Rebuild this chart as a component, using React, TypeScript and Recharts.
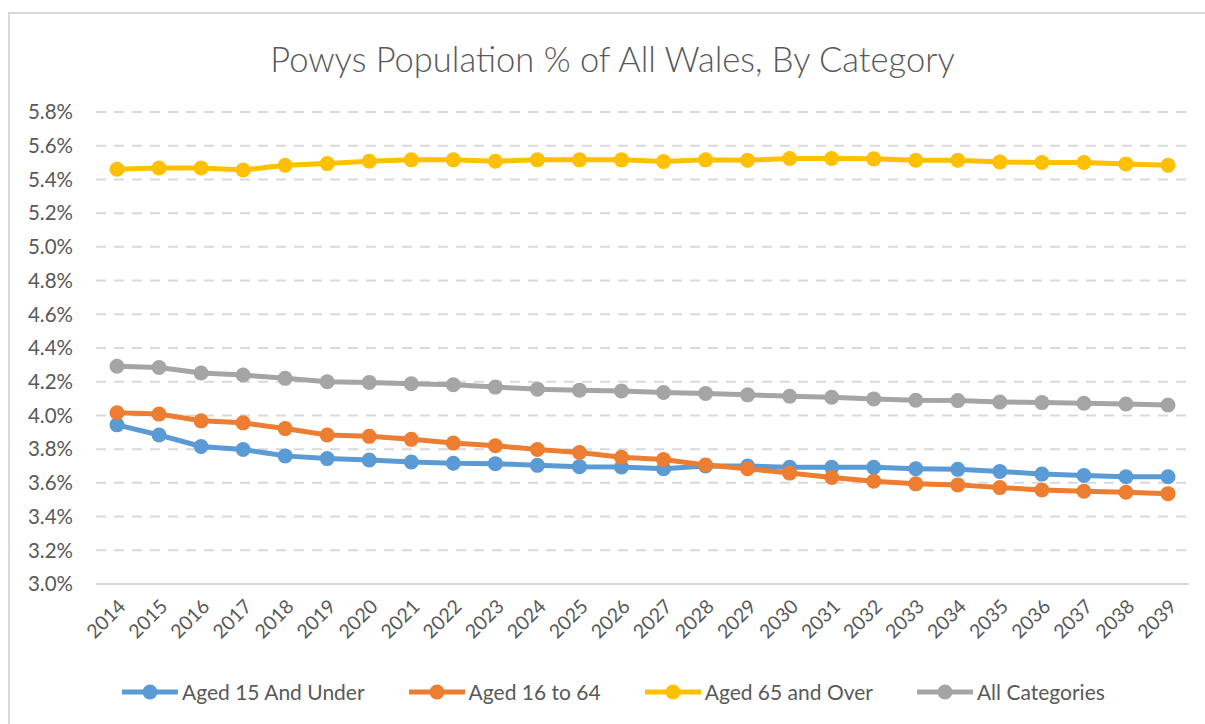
import React from 'react';
import { LineChart, Line, XAxis, YAxis, CartesianGrid, Legend } from 'recharts';

const years = ['2014','2015','2016','2017','2018','2019','2020','2021','2022','2023','2024','2025','2026','2027','2028','2029','2030','2031','2032','2033','2034','2035','2036','2037','2038','2039'];
const aged15AndUnder = [3.944,3.884,3.816,3.798,3.76,3.744,3.736,3.724,3.716,3.714,3.704,3.696,3.694,3.684,3.70,3.70,3.692,3.692,3.692,3.684,3.68,3.668,3.652,3.644,3.636,3.636];
const aged16to64 = [4.016,4.008,3.968,3.956,3.922,3.884,3.876,3.858,3.836,3.82,3.798,3.78,3.752,3.738,3.706,3.684,3.658,3.632,3.61,3.594,3.588,3.572,3.558,3.55,3.544,3.536];
const aged65AndOver = [5.46,5.468,5.468,5.456,5.484,5.494,5.508,5.516,5.516,5.508,5.516,5.516,5.516,5.506,5.516,5.514,5.524,5.524,5.522,5.514,5.514,5.504,5.5,5.5,5.492,5.484];
const allCategories = [4.292,4.284,4.252,4.24,4.22,4.2,4.196,4.188,4.182,4.168,4.156,4.15,4.145,4.136,4.13,4.122,4.114,4.108,4.098,4.09,4.088,4.08,4.076,4.072,4.068,4.062];
const yTicks = [3.0,3.2,3.4,3.6,3.8,4.0,4.2,4.4,4.6,4.8,5.0,5.2,5.4,5.6,5.8];

const seriesInfo = [
  { key: 'u15', name: 'Aged 15 And Under', color: '#5B9BD5' },
  { key: 'a1664', name: 'Aged 16 to 64', color: '#ED7D31' },
  { key: 'o65', name: 'Aged 65 and Over', color: '#FFC000' },
  { key: 'all', name: 'All Categories', color: '#A5A5A5' },
];

const data = years.map((y, i) => ({
  year: y,
  u15: aged15AndUnder[i],
  a1664: aged16to64[i],
  o65: aged65AndOver[i],
  all: allCategories[i],
}));

const FONT = 'Lato, "Open Sans", sans-serif';
const TEXT = '#595959';

const LegendContent = () => (
  <div style={{ display: 'flex', paddingLeft: 114, fontFamily: FONT, fontSize: 21, color: TEXT, alignItems: 'center' }}>
    {seriesInfo.map((s) => (
      <div key={s.key} style={{ display: 'flex', alignItems: 'center', marginRight: 44 }}>
        <svg width={56} height={18} style={{ marginRight: 4 }}>
          <line x1={0} y1={9} x2={56} y2={9} stroke={s.color} strokeWidth={5} strokeLinecap="round" />
          <circle cx={28} cy={9} r={7.5} fill={s.color} />
        </svg>
        <span>{s.name}</span>
      </div>
    ))}
  </div>
);

export default function App() {
  return (
    <div style={{ position: 'fixed', left: 8, top: 12, width: 1197, height: 712, borderLeft: '2px solid #d9d9d9', borderTop: '2px solid #d9d9d9', boxSizing: 'border-box', background: '#fff' }}>
      <div style={{ position: 'absolute', left: 0, top: 25, width: 1205, textAlign: 'center', fontFamily: FONT, fontSize: 34.5, color: TEXT, lineHeight: '40px', fontWeight: 300 }}>
        Powys Population % of All Wales, By Category
      </div>
      <div style={{ position: 'absolute', left: -2, top: -2 }}>
        <LineChart width={1197} height={712} data={data} margin={{ top: 100, right: 16, left: 0, bottom: 80 }}>
          <CartesianGrid vertical={false} stroke="#d9d9d9" strokeWidth={2} strokeDasharray="10 8" />
          <XAxis
            dataKey="year"
            interval={0}
            height={60}
            padding={{ left: 21, right: 21 }}
            axisLine={{ stroke: '#d9d9d9', strokeWidth: 2 }}
            tickLine={false}
            tickSize={0}
            tickMargin={14}
            angle={-45}
            textAnchor="end"
            tick={{ fill: TEXT, fontSize: 19.5, fontFamily: FONT }}
          />
          <YAxis
            domain={[3.0, 5.8]}
            ticks={yTicks}
            width={88}
            axisLine={false}
            tickLine={false}
            tickSize={0}
            tickMargin={23}
            tickFormatter={(v: number) => `${v.toFixed(1)}%`}
            tick={{ fill: TEXT, fontSize: 20.5, fontFamily: FONT }}
          />
          <Legend layout="horizontal" verticalAlign="middle" align="center" wrapperStyle={{ top: 667, left: 0, width: 1197 }} content={<LegendContent />} />
          {seriesInfo.map((s) => (
            <Line
              key={s.key}
              type="linear"
              dataKey={s.key}
              name={s.name}
              stroke={s.color}
              strokeWidth={5}
              dot={{ r: 7.5, fill: s.color, stroke: s.color, strokeWidth: 0 }}
              activeDot={false}
              isAnimationActive={false}
            />
          ))}
        </LineChart>
      </div>
    </div>
  );
}
